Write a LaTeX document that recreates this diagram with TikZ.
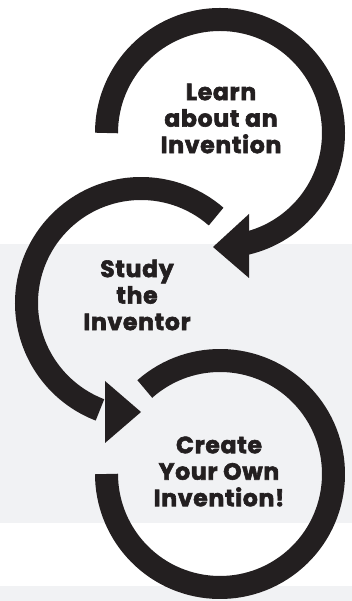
\documentclass[tikz,border=0pt]{standalone}
\usepackage{fontspec}
\usetikzlibrary{calc}
\newfontfamily\heavy{Poppins}[UprightFeatures={FakeBold=2.5},BoldFeatures={FakeBold=2.5},LetterSpace=3]
\definecolor{ink}{HTML}{231F20}
\definecolor{band}{HTML}{F1F2F4}
\begin{document}
\begin{tikzpicture}[x=1pt,y=1pt,
  ring/.style={draw=ink,line width=23pt,line cap=butt},
  head/.style={fill=ink,draw=none},
  label/.style={text=ink,align=center,font=\heavy\bfseries\fontsize{23.5}{26.5}\selectfont,inner sep=0pt}]
\useasboundingbox (0,0) rectangle (352,601);
\fill[white] (0,0) rectangle (352,601);
\fill[band] (0,78) rectangle (352,357);
\fill[band] (0,0) rectangle (352,15);
% centres
\coordinate (c1) at (220,468);
\coordinate (c2) at (141,298);
\coordinate (c3) at (220,127);
% arc 1
\coordinate (s1) at ($(c1)+(180:113.5)$);
\draw[ring] (s1) arc[start angle=180,end angle=-77,radius=113.5];
\coordinate (t1) at (213,354);
\fill[head] (t1) -- (249,387) -- (249,323) -- cycle;
% arc 2
\coordinate (s2) at ($(c2)+(49:114.5)$);
\draw[ring] (s2) arc[start angle=49,end angle=249,radius=114.5];
\coordinate (t2) at (141,189);
\fill[head] (t2) -- (105,220) -- (105,158) -- cycle;
% arc 3
\coordinate (s3) at ($(c3)+(131.5:113.5)$);
\draw[ring] (s3) arc[start angle=131.5,end angle=-180,radius=113.5];
% labels
\node[label] (n1) at (221,482.5) {Learn\\about an\\Invention};
\node[label] (n2) at (137,306) {Study\\the\\Inventor};
\node[label] (n3) at (219,129.5) {Create\\Your Own\\Invention!};
\end{tikzpicture}
\end{document}
